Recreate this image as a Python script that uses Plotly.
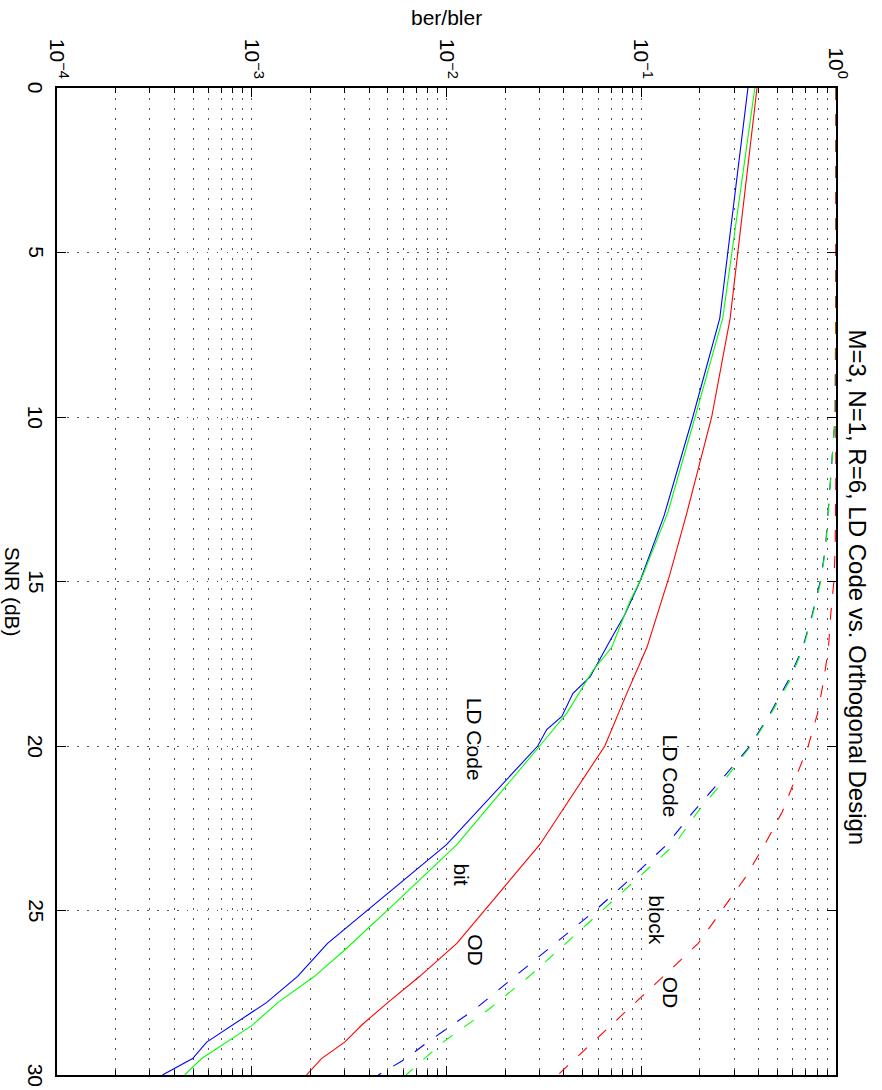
import plotly.graph_objects as go

# ---------------- data ----------------
snr_ld_bit_b = [0, 7, 10, 13, 15, 16, 16.7, 17.6, 17.9, 18.4, 19.1, 19.5, 20, 23, 26, 27, 27.8, 29, 29.5, 30]
ber_ld_b = [0.353, 0.253, 0.184, 0.131, 0.0984, 0.0824, 0.0706, 0.0578, 0.0546, 0.0446, 0.0391, 0.0327,
            0.0294, 0.0100, 0.00245, 0.00172, 0.00119, 0.000587, 0.000497, 0.000348]

snr_ld_bit_g = [0, 7, 10, 12.9, 14.8, 15.6, 17.0, 17.7, 18.0, 19.0, 20.0, 23, 24.7, 26.2, 27.0, 27.8, 28.5, 29.0, 29.5, 30]
ber_ld_g = [0.383, 0.262, 0.189, 0.137, 0.102, 0.0875, 0.0706, 0.0565, 0.0526, 0.0415, 0.0301, 0.0113,
            0.00562, 0.0030, 0.0021, 0.00136, 0.0010, 0.000743, 0.000553, 0.000452]

snr_od_bit = [0, 7, 10, 13, 14.8, 17.0, 18.4, 20.0, 23.0, 26.0, 27.0, 27.8, 28.45, 29.0, 29.5, 30]
ber_od = [0.393, 0.286, 0.230, 0.170, 0.140, 0.107, 0.0843, 0.0650, 0.0301, 0.0113, 0.00729, 0.00499,
          0.00372, 0.0030, 0.00228, 0.00191]

snr_blk = [0, 5, 10, 11, 12, 13, 14, 15, 16, 17, 18, 19, 20, 21, 22, 23, 24, 25, 26, 27, 28, 29, 29.5, 30]
bler_ld_b = [1.0, 1.0, 0.99, 0.962, 0.94, 0.915, 0.882, 0.83, 0.755, 0.675, 0.57, 0.46, 0.362, 0.26, 0.185,
             0.135, 0.0894, 0.058, 0.036, 0.0225, 0.014, 0.008, 0.0062, 0.00446]

snr_blk_g = [0, 5, 10, 11, 12, 13, 14, 15, 16, 17, 18, 19, 20, 21, 22, 23, 24, 25, 26, 27, 28, 29, 30]
bler_ld_g = [1.0, 1.0, 0.99, 0.963, 0.942, 0.918, 0.885, 0.835, 0.76, 0.68, 0.58, 0.465, 0.365, 0.27, 0.195,
             0.148, 0.097, 0.063, 0.041, 0.0266, 0.0165, 0.0096, 0.0062]

snr_blk_od = [0, 5, 10, 12, 14, 15, 16, 17, 18, 19, 20, 21, 22, 23, 24, 25, 26, 27, 28, 29, 30]
bler_od = [1.0, 1.0, 1.0, 0.998, 0.99, 0.975, 0.94, 0.915, 0.865, 0.805, 0.72, 0.62, 0.53, 0.43, 0.342,
           0.259, 0.196, 0.13, 0.0854, 0.0565, 0.0373]

x_major = [1e-4, 1e-3, 1e-2, 1e-1, 1]
x_major_text = ["10<sup>−4</sup>", "10<sup>−3</sup>", "10<sup>−2</sup>", "10<sup>−1</sup>", "10<sup>0</sup>"]
x_minor = [m * d for d in [1e-4, 1e-3, 1e-2, 1e-1] for m in range(2, 10)]
snr_ticks = [0, 5, 10, 15, 20, 25, 30]

title_text = "M=3, N=1, R=6, LD Code vs. Orthogonal Design"

# labels: (text, log10 position on ber axis, snr)
labels = [("LD Code", -1.855, 19.8), ("bit", -1.921, 23.9), ("OD", -1.855, 26.2),
          ("LD Code", -0.852, 20.9), ("block", -0.919, 25.3), ("OD", -0.852, 27.5)]

FONT = "Liberation Sans, Arial, Helvetica, sans-serif"
DASH = "12px,14px"

fig = go.Figure()

def add(x, y, color, dash="solid"):
    fig.add_trace(go.Scatter(x=x, y=y, mode="lines",
                             line=dict(color=color, width=1.1, dash=dash),
                             showlegend=False, hoverinfo="skip"))

add(ber_ld_b, snr_ld_bit_b, "#0000ff")
add(ber_ld_g, snr_ld_bit_g, "#00ff00")
add(ber_od, snr_od_bit, "#ff0000")
add(bler_ld_b, snr_blk, "#0000ff", DASH)
add(bler_ld_g, snr_blk_g, "#00ff00", DASH)
add(bler_od, snr_blk_od, "#ff0000", DASH)

grid = dict(showgrid=True, gridcolor="#555555", gridwidth=1, griddash="1.5px,8.5px")

fig.update_xaxes(type="log", range=[-4, 0], side="top",
                 tickvals=x_major, ticktext=x_major_text, tickangle=90,
                 tickfont=dict(family=FONT, size=21, color="black"),
                 ticks="inside", ticklen=9, tickwidth=1, tickcolor="black",
                 showline=True, linecolor="black", linewidth=1.5, mirror="allticks",
                 zeroline=False,
                 minor=dict(tickvals=x_minor, ticks="inside", ticklen=5, tickwidth=1,
                            tickcolor="black", **grid),
                 **grid)

fig.update_yaxes(range=[30, 0], tickvals=snr_ticks, showticklabels=False,
                 ticks="inside", ticklen=9, tickwidth=1, tickcolor="black",
                 showline=True, linecolor="black", linewidth=1.5, mirror="allticks",
                 zeroline=False,
                 **grid)

# SNR tick labels (rotated like the reference), placed at the tick values
for t in snr_ticks:
    fig.add_annotation(x=-0.0265, y=t, xref="paper", yref="y", text=str(t), showarrow=False,
                       textangle=90, font=dict(family=FONT, size=21, color="black"),
                       xanchor="center", yanchor="middle")

for txt, lx, ly in labels:
    fig.add_annotation(x=lx, y=ly, xref="x", yref="y", text=txt, showarrow=False,
                       textangle=90, font=dict(family=FONT, size=21, color="black"))

fig.add_annotation(x=0.5, y=1.071, xref="paper", yref="paper", text="ber/bler", showarrow=False,
                   font=dict(family=FONT, size=21, color="black"), xanchor="center", yanchor="middle")
fig.add_annotation(x=-0.057, y=0.49, xref="paper", yref="paper", text="SNR (dB)", showarrow=False,
                   textangle=90, font=dict(family=FONT, size=21, color="black"),
                   xanchor="center", yanchor="middle")
fig.add_annotation(x=1.028, y=0.494, xref="paper", yref="paper", text=title_text, showarrow=False,
                   textangle=90, font=dict(family=FONT, size=24, color="black"),
                   xanchor="center", yanchor="middle")

fig.update_layout(width=882, height=1090, plot_bgcolor="white", paper_bgcolor="white",
                  margin=dict(l=57, r=46, t=88, b=15), showlegend=False)

fig.write_html("out.html")
